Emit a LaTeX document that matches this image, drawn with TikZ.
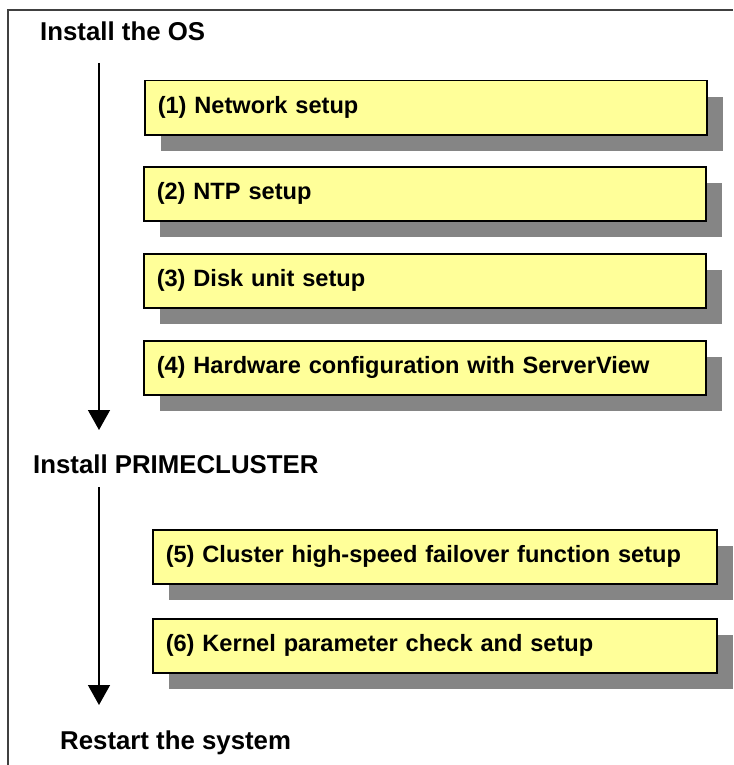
\documentclass[tikz,border=0pt]{standalone}
\usepackage{fontspec}
\setmainfont{Liberation Sans}
\usetikzlibrary{shadows,arrows.meta}
\definecolor{boxyellow}{HTML}{FFFF99}
\definecolor{shadowgray}{HTML}{858585}
\definecolor{framegray}{HTML}{404040}
\begin{document}
\begin{tikzpicture}[x=1pt,y=-1pt]
\tikzstyle{stage}=[anchor=base west,inner sep=0pt,font=\fontsize{25.8}{30}\selectfont\bfseries];
\tikzstyle{task}=[draw,line width=1.5pt,fill=boxyellow,anchor=north west,minimum height=54pt,inner xsep=13pt,text width=536pt,align=left,font=\fontsize{23.6}{28}\selectfont\bfseries,drop shadow={shadow xshift=16pt,shadow yshift=-16pt,fill=shadowgray,opacity=1}];
\tikzstyle{widetask}=[task,text width=538pt];
\tikzstyle{dir}=[-{Triangle[width=22pt,length=20pt]},line width=1.5pt];
\useasboundingbox (0,0) rectangle (733,765);
\draw [framegray,line width=2pt] (8,765) -- (8,10) -- (733,10);
\node [stage] (os) at (40,40.7) {Install the OS};
\node [task] (t1) at (144,80) {(1) Network setup};
\node [task] (t2) at (143,166) {(2) NTP setup};
\node [task] (t3) at (143,253) {(3) Disk unit setup};
\node [task] (t4) at (143,340) {(4) Hardware configuration with ServerView};
\coordinate (s1) at (99,63);
\coordinate (e1) at (99,430);
\draw [dir] (s1) -- (e1);
\node [stage] (pc) at (33,473) {Install PRIMECLUSTER};
\node [widetask] (t5) at (152,529) {(5) Cluster high-speed failover function setup};
\node [widetask] (t6) at (152,618) {(6) Kernel parameter check and setup};
\coordinate (s2) at (99,487);
\coordinate (e2) at (99,705);
\draw [dir] (s2) -- (e2);
\node [stage] (rs) at (60,749) {Restart the system};
\end{tikzpicture}
\end{document}
